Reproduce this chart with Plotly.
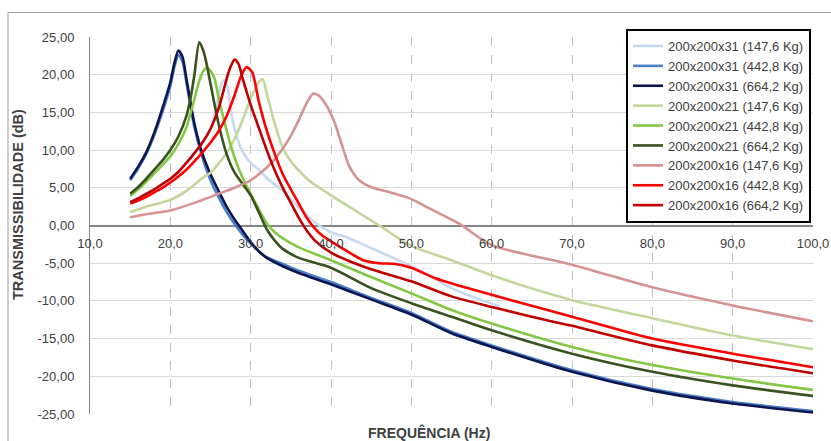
import plotly.graph_objects as go

# ---------------- data ----------------
names = [
    "200x200x31 (147,6 Kg)", "200x200x31 (442,8 Kg)", "200x200x31 (664,2 Kg)",
    "200x200x21 (147,6 Kg)", "200x200x21 (442,8 Kg)", "200x200x21 (664,2 Kg)",
    "200x200x16 (147,6 Kg)", "200x200x16 (442,8 Kg)", "200x200x16 (664,2 Kg)",
]
colors = ["#C6D9F1", "#4A7EC8", "#0B1650",
          "#C3D69B", "#83C743", "#3A5220",
          "#D59391", "#FF0000", "#C00000"]

f_31_147 = [15, 18, 20, 22, 24, 25, 25.8, 26.3, 26.7, 27.1, 27.5, 28, 29, 30, 31, 32, 34, 36, 38, 40, 42, 45, 50, 55, 58, 61]
t_31_147 = [3.1, 4.8, 6.2, 8.3, 11.0, 12.8, 16.0, 18.6, 19.3, 18.5, 15.5, 12.8, 9.8, 8.3, 7.4, 6.3, 4.6, 2.4, 0.4, -0.9, -1.6, -3.0, -5.4, -8.3, -9.6, -10.7]

f_31_442 = [15, 16, 17, 18, 19, 20, 20.5, 21, 21.5, 22, 23, 24, 25, 26, 27, 28, 29, 30, 31, 32, 34, 36, 40, 45, 50, 55, 60, 70, 80, 90, 100]
t_31_442 = [6.0, 7.6, 9.5, 12.0, 15.0, 18.5, 21.0, 22.6, 21.8, 19.0, 13.0, 9.0, 6.0, 3.8, 1.8, 0.2, -1.2, -2.4, -3.4, -4.2, -5.1, -6.0, -7.5, -9.6, -11.6, -14.1, -15.9, -19.2, -21.7, -23.4, -24.6]

f_31_664 = [15, 16, 17, 18, 19, 20, 20.5, 21, 21.5, 22, 23, 24, 25, 26, 27, 28, 29, 30, 31, 32, 34, 36, 40, 45, 50, 55, 60, 70, 80, 90, 100]
t_31_664 = [6.2, 7.8, 9.7, 12.3, 15.5, 19.0, 21.5, 23.2, 22.4, 19.5, 13.5, 9.5, 6.8, 4.6, 2.5, 0.8, -0.7, -2.2, -3.4, -4.3, -5.4, -6.3, -7.8, -9.8, -11.8, -14.3, -16.1, -19.4, -21.9, -23.6, -24.8]

f_21_147 = [15, 17, 20, 22, 24, 25, 26, 27, 28, 29, 30, 31, 31.5, 32, 33, 34, 35, 36, 37, 38, 40, 43, 46, 50, 55, 60, 67, 70, 80, 90, 100]
t_21_147 = [1.8, 2.5, 3.4, 4.6, 6.3, 7.0, 8.2, 9.6, 11.5, 14.0, 16.8, 19.0, 19.4, 17.5, 13.5, 10.3, 8.5, 7.3, 6.2, 5.4, 4.0, 2.0, 0.0, -2.7, -4.6, -6.6, -9.0, -9.9, -12.3, -14.6, -16.4]

f_21_442 = [15, 16, 17, 18, 19, 20, 21, 22, 22.5, 23, 23.5, 24, 24.5, 25, 25.5, 26, 27, 28, 29, 30, 31, 32, 33, 34, 36, 40, 44, 50, 55, 60, 70, 80, 90, 100]
t_21_442 = [3.9, 4.8, 5.8, 6.9, 8.0, 9.2, 10.8, 13.0, 14.8, 16.8, 18.8, 20.3, 20.9, 20.5, 19.5, 17.0, 12.6, 9.0, 6.3, 4.2, 2.2, 0.3, -0.9, -1.7, -2.9, -4.6, -6.4, -9.0, -11.2, -13.0, -16.1, -18.5, -20.3, -21.8]

f_21_664 = [15, 16, 17, 18, 19, 20, 21, 22, 22.5, 23, 23.6, 24.1, 24.5, 25, 26, 27, 28, 29, 30, 31, 32, 33, 34, 36, 40, 45, 50, 55, 60, 70, 80, 90, 100]
t_21_664 = [4.2, 5.1, 6.2, 7.4, 8.6, 10.0, 11.8, 14.5, 16.8, 20.0, 24.3, 23.2, 21.5, 18.8, 13.5, 9.5, 7.0, 5.5, 4.0, 1.8, -0.5, -2.0, -3.1, -4.3, -5.6, -8.3, -10.3, -12.1, -13.9, -17.0, -19.4, -21.2, -22.6]

f_16_147 = [15, 17, 20, 23, 26, 28, 30, 31, 32, 33, 34, 35, 36, 37, 37.8, 38.5, 39.5, 40.5, 41.5, 42.3, 43.5, 45.2, 47, 49.8, 52, 56, 60, 70, 80, 90, 100]
t_16_147 = [1.1, 1.5, 2.0, 3.0, 4.2, 5.0, 6.0, 6.8, 7.7, 8.8, 10.2, 11.9, 14.0, 16.3, 17.5, 17.2, 15.8, 13.5, 10.2, 7.8, 6.0, 5.0, 4.5, 3.6, 2.4, 0.2, -2.6, -5.2, -8.2, -10.6, -12.7]

f_16_442 = [15, 16, 17, 18, 19, 20, 21, 22, 23, 24, 25, 26, 27, 28, 28.8, 29.5, 30.2, 31, 32, 33, 34, 35, 36, 37, 38, 39, 40, 42, 44, 46, 48, 50, 53, 56, 60, 70, 80, 90, 100]
t_16_442 = [2.9, 3.3, 3.8, 4.4, 5.0, 5.7, 6.5, 7.4, 8.5, 9.7, 11.0, 12.5, 14.5, 17.3, 19.8, 21.0, 20.3, 16.5, 12.6, 9.5, 6.8, 4.8, 2.9, 1.0, -0.4, -1.4, -2.1, -3.4, -4.6, -5.0, -5.1, -5.6, -7.0, -8.0, -9.2, -12.1, -15.0, -17.0, -18.8]

f_16_664 = [15, 16, 17, 18, 19, 20, 21, 22, 23, 24, 25, 26, 26.6, 27.3, 28, 28.5, 29, 30, 31, 32, 33, 34, 35, 36, 37, 38, 40, 42, 45, 50, 55, 60, 67, 70, 80, 90, 100]
t_16_664 = [3.1, 3.6, 4.2, 4.8, 5.5, 6.2, 7.1, 8.3, 9.6, 11.0, 12.8, 15.5, 17.8, 20.5, 22.0, 21.4, 19.5, 16.0, 13.0, 10.0, 7.3, 5.0, 3.0, 1.0, -0.7, -2.0, -3.6, -4.6, -5.8, -7.4, -9.4, -10.8, -12.6, -13.3, -15.9, -17.9, -19.6]

freqs = [f_31_147, f_31_442, f_31_664, f_21_147, f_21_442, f_21_664, f_16_147, f_16_442, f_16_664]
vals = [t_31_147, t_31_442, t_31_664, t_21_147, t_21_442, t_21_664, t_16_147, t_16_442, t_16_664]

x_ticks = [10, 20, 30, 40, 50, 60, 70, 80, 90, 100]
x_ticktext = ["10,0", "20,0", "30,0", "40,0", "50,0", "60,0", "70,0", "80,0", "90,0", "100,0"]
y_ticks = [25, 20, 15, 10, 5, 0, -5, -10, -15, -20, -25]
y_ticktext = ["25,00", "20,00", "15,00", "10,00", "5,00", "0,00", "-5,00", "-10,00", "-15,00", "-20,00", "-25,00"]

x_title = "FREQUÊNCIA (Hz)"
y_title = "TRANSMISSIBILIDADE (dB)"

# ---------------- figure ----------------
FONT = "Liberation Sans, Arial, sans-serif"
fig = go.Figure()
for n, c, fx, fy in zip(names, colors, freqs, vals):
    fig.add_trace(go.Scatter(x=fx, y=fy, mode="lines", name=n,
                             line=dict(color=c, width=2.6, shape="spline", smoothing=0.7)))

L, R, T, B = 90, 18, 37, 27
W, H = 831, 441
pw, ph = W - L - R, H - T - B

def px(xp):
    return (xp - L) / pw

def py(yp):
    return (H - B - yp) / ph

fig.update_layout(
    width=W, height=H,
    margin=dict(l=L, r=R, t=T, b=B, pad=0, autoexpand=False),
    paper_bgcolor="white", plot_bgcolor="white",
    font=dict(family=FONT, size=13, color="#404040"),
    showlegend=True,
    legend=dict(x=px(811), xanchor="right", y=py(29), yanchor="top",
                bgcolor="white", bordercolor="black", borderwidth=2,
                font=dict(family=FONT, size=13, color="#404040"),
                itemwidth=30, tracegroupgap=0),
    xaxis=dict(range=[10, 100], tickmode="array", tickvals=x_ticks, ticktext=x_ticktext,
               anchor="free", position=0.5, showline=False, zeroline=False, automargin=False,
               showgrid=True, gridcolor="#BFBFBF", griddash="dash", gridwidth=1,
               ticks="", ticklabelstandoff=8,
               tickfont=dict(family=FONT, size=13, color="#404040")),
    yaxis=dict(range=[-25, 25], tickmode="array", tickvals=y_ticks, ticktext=y_ticktext,
               showline=True, linecolor="#868686", linewidth=1, automargin=False,
               zeroline=True, zerolinecolor="#868686", zerolinewidth=2,
               showgrid=True, gridcolor="#D9D9D9", gridwidth=1,
               ticks="", ticklabelstandoff=12,
               tickfont=dict(family=FONT, size=13, color="#404040")),
    annotations=[
        dict(text=f"<b>{x_title}</b>", xref="paper", yref="paper", x=px(429), y=py(432),
             xanchor="center", yanchor="middle", showarrow=False,
             font=dict(family=FONT, size=14, color="#404040")),
        dict(text=f"<b>{y_title}</b>", xref="paper", yref="paper", x=px(18), y=py(205),
             xanchor="center", yanchor="middle", showarrow=False, textangle=-90,
             font=dict(family=FONT, size=14.5, color="#404040")),
    ],
    shapes=[dict(type="rect", xref="paper", yref="paper", x0=px(8), x1=px(900),
                 y0=py(500), y1=py(12.5), line=dict(color="#A0A0A0", width=1),
                 fillcolor="rgba(0,0,0,0)", layer="below")],
)

fig.write_html("out.html")
